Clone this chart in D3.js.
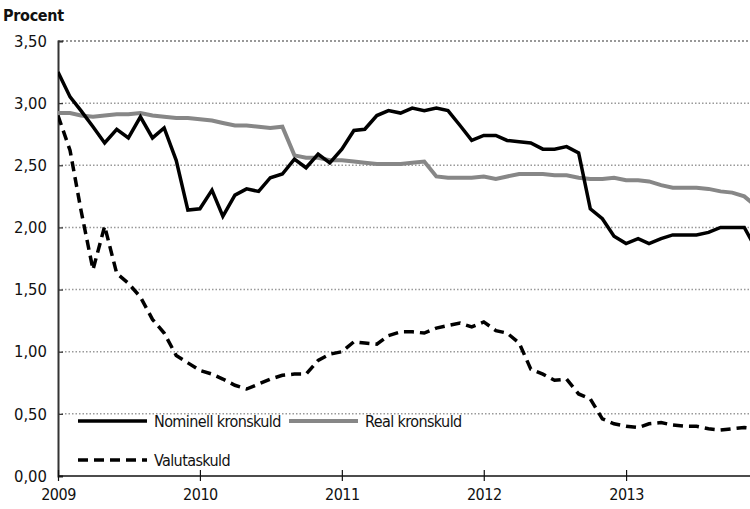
<!DOCTYPE html>
<html><head><meta charset="utf-8">
<script src="https://cdn.jsdelivr.net/npm/d3@7"></script>
<style>
body{margin:0;background:#fff;}
svg text{font-family:"DejaVu Sans Condensed","DejaVu Sans",sans-serif;font-stretch:condensed;fill:#111;}
</style></head><body>
<svg id="c" width="750" height="509"></svg>
<script>
const startYear = 2009, startMonth = 0;
const nominell = [3.25,3.05,2.94,2.81,2.68,2.79,2.72,2.89,2.72,2.80,2.54,2.14,2.15,2.30,2.09,2.26,2.31,2.29,2.40,2.43,2.55,2.48,2.59,2.52,2.63,2.78,2.79,2.90,2.94,2.92,2.96,2.94,2.96,2.94,2.82,2.70,2.74,2.74,2.70,2.69,2.68,2.63,2.63,2.65,2.60,2.15,2.07,1.93,1.87,1.91,1.87,1.91,1.94,1.94,1.94,1.96,2.00,2.00,2.00,1.83];
const real = [2.92,2.92,2.90,2.89,2.90,2.91,2.91,2.92,2.90,2.89,2.88,2.88,2.87,2.86,2.84,2.82,2.82,2.81,2.80,2.81,2.58,2.56,2.56,2.54,2.54,2.53,2.52,2.51,2.51,2.51,2.52,2.53,2.41,2.40,2.40,2.40,2.41,2.39,2.41,2.43,2.43,2.43,2.42,2.42,2.40,2.39,2.39,2.40,2.38,2.38,2.37,2.34,2.32,2.32,2.32,2.31,2.29,2.28,2.25,2.17];
const valuta = [2.90,2.62,2.14,1.66,2.01,1.63,1.55,1.44,1.26,1.15,0.97,0.91,0.85,0.82,0.78,0.73,0.70,0.74,0.78,0.81,0.82,0.82,0.93,0.98,1.00,1.08,1.07,1.06,1.13,1.16,1.16,1.15,1.19,1.21,1.23,1.20,1.24,1.17,1.15,1.07,0.86,0.82,0.77,0.78,0.66,0.62,0.46,0.42,0.40,0.39,0.42,0.43,0.41,0.40,0.40,0.38,0.37,0.38,0.39,0.38];
const yTicks = [0,0.5,1,1.5,2,2.5,3,3.5];
const xTickYears = [2009,2010,2011,2012,2013];
const seriesNames = ["Nominell kronskuld","Real kronskuld","Valutaskuld"];

const svg = d3.select("#c");
const L=58, R=750, T=41, B=476;
const x = d3.scaleTime().domain([new Date(2009,0,1), new Date(2014,0,1)]).range([L, L+5*142]);
const y = d3.scaleLinear().domain([0,3.5]).range([B, T]);
const fmt = v => d3.format(".2f")(v).replace(".", ",");
const dateOf = i => new Date(startYear, startMonth + i, 1);

svg.append("defs").append("clipPath").attr("id","clip")
  .append("rect").attr("x",L).attr("y",0).attr("width",R-L).attr("height",509);

// gridlines
svg.append("g").selectAll("line").data(yTicks.filter(d=>d>0)).join("line")
  .attr("x1",L).attr("x2",R).attr("y1",d=>y(d)).attr("y2",d=>y(d))
  .attr("stroke",d=>d===3.5?"#333":"#999").attr("stroke-width",d=>d===3.5?1.2:1.5)
  .attr("stroke-dasharray",d=>d===3.5?"2,2":"1.5,2");

// y axis
const ya = svg.append("g").attr("transform",`translate(${L},0)`)
  .call(d3.axisLeft(y).tickValues(yTicks).tickFormat(fmt).tickSize(-5).tickPadding(11));
ya.select(".domain").attr("stroke","#333").attr("stroke-width",2);
ya.selectAll(".tick line").attr("stroke","#333").attr("stroke-width",1.2);
ya.selectAll("text").attr("font-size",16.5).attr("font-family",null).attr("fill","#111");

// x axis
const xa = svg.append("g").attr("transform",`translate(0,${B})`)
  .call(d3.axisBottom(x).tickValues(xTickYears.map(yr=>new Date(yr,0,1))).tickFormat(d3.timeFormat("%Y")).tickSize(5).tickPadding(8));
xa.select(".domain").remove();
xa.append("line").attr("x1",L).attr("x2",R).attr("stroke","#111").attr("stroke-width",1.5);
xa.selectAll(".tick line").attr("y1",-6).attr("y2",5).attr("stroke","#111").attr("stroke-width",1.2);
xa.selectAll("text").attr("font-size",16).attr("font-family",null).attr("fill","#111").attr("letter-spacing",-0.5);

// lines
const line = d3.line().x((d,i)=>x(dateOf(i))).y(d=>y(d));
const g = svg.append("g").attr("clip-path","url(#clip)");
g.append("path").datum(real).attr("d",line).attr("fill","none").attr("stroke","#878787").attr("stroke-width",4);
g.append("path").datum(nominell).attr("d",line).attr("fill","none").attr("stroke","#000").attr("stroke-width",3.5);
g.append("path").datum(valuta).attr("d",line).attr("fill","none").attr("stroke","#000").attr("stroke-width",3.5).attr("stroke-dasharray","10,6");

// title
svg.append("text").attr("x",3).attr("y",21).attr("font-size",16).attr("font-weight","bold").attr("letter-spacing",-0.3).text("Procent");

// legend
const legend = [
  {name:seriesNames[0], x:78, y:421, color:"#000", dash:null},
  {name:seriesNames[1], x:289, y:421, color:"#878787", dash:null},
  {name:seriesNames[2], x:78, y:460, color:"#000", dash:"10,6"}
];
const lg = svg.append("g").selectAll("g").data(legend).join("g").attr("transform",d=>`translate(${d.x},${d.y})`);
lg.append("line").attr("x1",0).attr("x2",69).attr("stroke",d=>d.color).attr("stroke-width",d=>d.color==="#000"?3.5:4).attr("stroke-dasharray",d=>d.dash);
lg.append("text").attr("x",76).attr("y",6).attr("font-size",16).attr("letter-spacing",-0.6).text(d=>d.name);
</script>
</body></html>
